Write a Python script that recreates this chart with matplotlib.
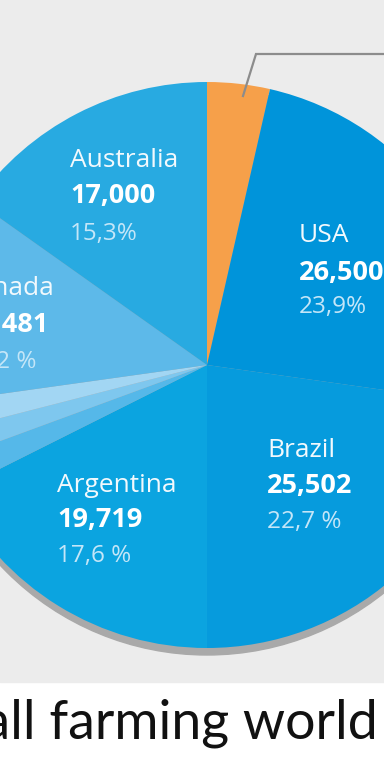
import matplotlib

matplotlib.use("Agg")
import matplotlib.pyplot as plt
from matplotlib.patches import Circle, Rectangle

# --- data ---
slices = ["Other", "USA", "Brazil", "Argentina", "Small 3", "Small 2", "Small 1", "Canada", "Australia"]
values = [4000, 26500, 25502, 19719, 2000, 1800, 2000, 13481, 17000]
colors = ["#f6a04a", "#0094da", "#069bdd", "#0ba4e0", "#55b8e9", "#7ec7ee", "#a2d6f3", "#5db9e9", "#28aae1"]

label_names = ["Australia", "USA", "Canada", "Argentina", "Brazil"]
label_values = ["17,000", "26,500", "13,481", "19,719", "25,502"]
label_shares = ["15,3%", "23,9%", "12,2 %", "17,6 %", "22,7 %"]

caption = "small farming world"

W, H = 384, 768


def Y(py):
    # pixel y (from top) -> data y
    return H - py


fig = plt.figure(figsize=(W / 100, H / 100), dpi=100)
ax = fig.add_axes([0, 0, 1, 1])

# grey panel + white strip
ax.add_patch(Rectangle((0, Y(682)), W, 682, color="#ececec", zorder=0))

cx, cy, r = 207, Y(365), 283
ax.add_patch(Circle((cx, cy - 7), r, color="#a9a9a9", zorder=1))
wedges, _ = ax.pie(values, colors=colors, startangle=90, counterclock=False,
                   center=(cx, cy), radius=r, wedgeprops=dict(linewidth=0))
for w in wedges:
    w.set_zorder(2)

# callout line for the orange slice
ax.plot([243, 256, W], [Y(96), Y(54), Y(54)], color="#8c8c8c", lw=1.6,
        solid_joinstyle="miter", zorder=3)

# (x, baselines, align)
layout = {
    "Australia": (70, (167, 203, 240), "left"),
    "USA": (299, (242, 280, 313), "left"),
    "Canada": ((54, 49, 36), (295, 332, 368), "right"),
    "Argentina": (57, (492, 527, 562), "left"),
    "Brazil": (267, (457, 493, 528), "left"),
}

font = "Open Sans"
for name, val, share in zip(label_names, label_values, label_shares):
    x, ys, ha = layout[name]
    xs = x if isinstance(x, tuple) else (x, x, x)
    ax.text(xs[0], Y(ys[0]), name, ha=ha, va="baseline", fontsize=19,
            color="#f2f9fd", family=font, zorder=4)
    ax.text(xs[1], Y(ys[1]), val, ha=ha, va="baseline", fontsize=19.5,
            fontweight="bold", color="white", family=font, zorder=4)
    ax.text(xs[2], Y(ys[2]), share, ha=ha, va="baseline", fontsize=17.5,
            color="#c4e6f8", family=font, zorder=4)

ax.text(378, Y(738), caption, ha="right", va="baseline", fontsize=38.7,
        color="#111111", family="Lato", zorder=4)

ax.set_xlim(0, W)
ax.set_ylim(0, H)
ax.set_aspect("auto")
ax.axis("off")

fig.savefig("out.png", dpi=100, facecolor="white")
